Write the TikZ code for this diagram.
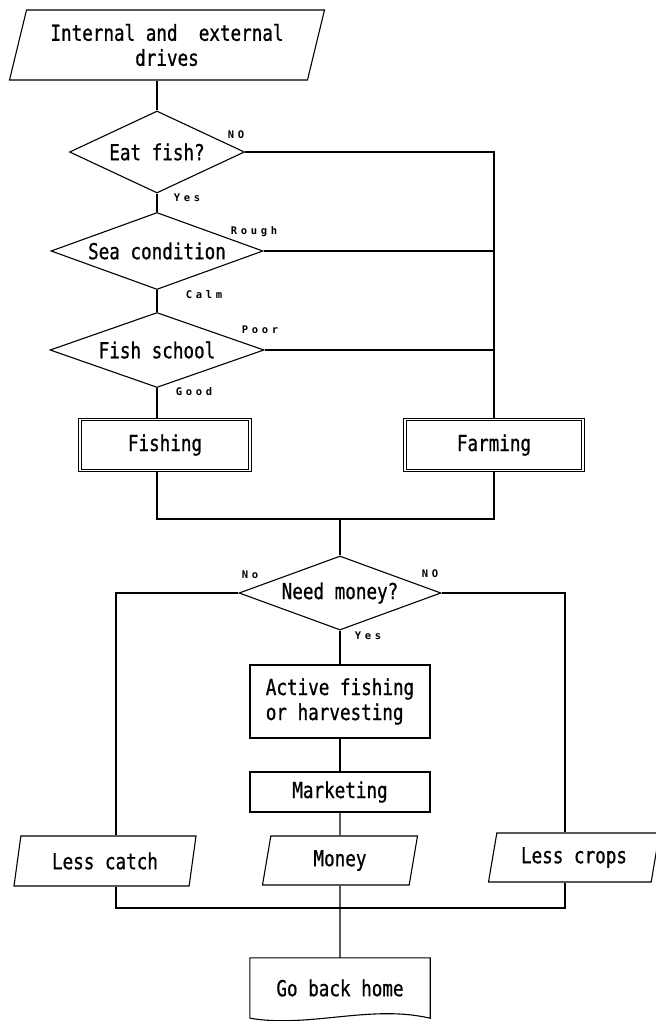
\documentclass[tikz,border=0pt]{standalone}
\usepackage{fontspec}
\newfontfamily\boxfont[FakeStretch=0.8, FakeBold=0.8]{DejaVu Sans Mono}
\newfontfamily\tagfont[LetterSpace=35]{DejaVu Sans Mono Bold}
\usetikzlibrary{shapes.geometric}
\tikzset{
  flow/.style={line width=1.1pt},
  iobox/.style={draw, line width=1.1pt, trapezium, trapezium left angle=68,
    trapezium right angle=112, trapezium stretches body, inner sep=0pt,
    align=center, font=\boxfont\fontsize{22}{25}\selectfont},
  decision/.style={draw, line width=1.1pt, diamond, aspect=2.7, inner sep=0pt,
    font=\boxfont\fontsize{22}{25}\selectfont},
  procbox/.style={draw, line width=1.1pt, rectangle, inner sep=0pt,
    font=\boxfont\fontsize{22}{25}\selectfont},
  dblbox/.style={procbox, double, double distance=1.6pt},
  homebox/.style={rectangle, inner sep=0pt, font=\boxfont\fontsize{22}{25}\selectfont},
  tag/.style={inner sep=0pt, font=\tagfont\fontsize{10.5}{12}\selectfont}
}
\begin{document}
\begin{tikzpicture}[x=1pt, y=-1pt]
\useasboundingbox (0,0) rectangle (656,1021);
%%%% Start:
\node[iobox, minimum width=315, minimum height=70] (drives) at (167,45) {Internal and~ external\\drives};
%%%% Decisions, left column:
\node[decision, minimum width=175, minimum height=82] (eat) at (157,152) {Eat fish?};
\node[decision, minimum width=212, minimum height=77] (sea) at (157,251) {Sea condition};
\node[decision, minimum width=214, minimum height=75] (school) at (157,350) {Fish school};
\node[tag] (eatno) at (236,135) {NO};
\node[tag] (eatyes) at (187,198) {Yes};
\node[tag] (rough) at (254,232) {Rough};
\node[tag] (calm) at (204,295) {Calm};
\node[tag] (poor) at (260,330) {Poor};
\node[tag] (good) at (194,392) {Good};
%%%% Activities:
\node[dblbox, minimum width=170, minimum height=51] (fishing) at (165,445) {Fishing};
\node[dblbox, minimum width=178, minimum height=51] (farming) at (494,445) {Farming};
\draw[flow] (drives.south -| eat.north) -- (eat.north);
\draw[flow] (eat.south) -- (sea.north);
\draw[flow] (sea.south) -- (school.north);
\draw[flow] (school.south) -- (school.south |- fishing.north);
\coordinate (rt) at (494,152);
\draw[flow] (eat.east) -- (rt) -- (farming.north);
\draw[flow] (sea.east) -- (sea.east -| rt);
\draw[flow] (school.east) -- (school.east -| rt);
%%%% Need money:
\coordinate (join) at (340,519);
\node[decision, minimum width=202, minimum height=74] (need) at (340,593) {Need money?};
\draw[flow] (school.south |- fishing.south) -- (school.south |- join) -- (farming.south |- join) -- (farming.south);
\draw[flow] (join) -- (need.north);
\node[tag] (needno) at (250,575) {No};
\node[tag] (needNO) at (430,574) {NO};
\node[tag] (needyes) at (368,636) {Yes};
\node[procbox, minimum width=180, minimum height=73, align=left] (active) at (340,701.5) {Active fishing\\or harvesting};
\node[procbox, minimum width=180, minimum height=40] (market) at (340,792) {Marketing};
%%%% Outcomes:
\node[iobox, minimum width=182, minimum height=50] (catch) at (105,861) {Less catch};
\node[iobox, minimum width=155, minimum height=49] (money) at (340,860.5) {Money};
\node[iobox, minimum width=171, minimum height=49] (crops) at (574,857.5) {Less crops};
\node[homebox, minimum width=180, minimum height=60] (home) at (340,988) {Go back home};
\draw[flow] (home.south west) -- (home.north west) -- (home.north east) -- (home.south east)
  .. controls +(-60,-14) and +(60,10) .. (home.south west);
\draw[flow] (need.south) -- (active.north);
\draw[flow] (active.south) -- (market.north);
\draw[flow] (market.south) -- (money.north);
\draw[flow] (money.south) -- (home.north);
\coordinate (nl) at (116,593);
\coordinate (nr) at (565,593);
\coordinate (bl) at (116,908);
\coordinate (br) at (565,908);
\draw[flow] (need.west) -- (nl) -- (nl |- catch.north);
\draw[flow] (need.east) -- (nr) -- (nr |- crops.north);
\draw[flow] (nl |- catch.south) -- (bl) -- (br) -- (br |- crops.south);
\end{tikzpicture}
\end{document}
